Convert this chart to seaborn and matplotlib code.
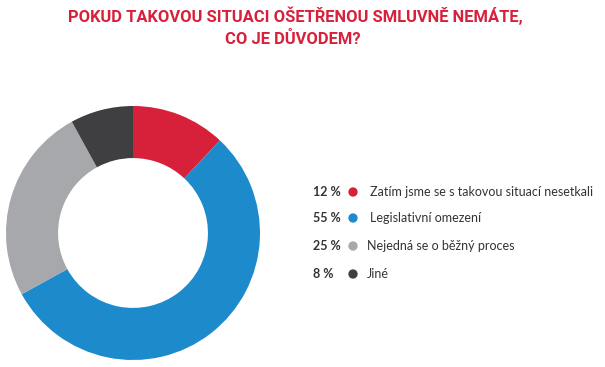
import matplotlib.pyplot as plt
import seaborn as sns

# data
labels = ['Zatím jsme se s takovou situací nesetkali', 'Legislativní omezení',
          'Nejedná se o běžný proces', 'Jiné']
values = [12, 55, 25, 8]
pct_text = ['12 %', '55 %', '25 %', '8 %']
colors = ['#D7213B', '#1D8BCB', '#A7A8AB', '#3F3F41']

sns.set_theme(style='white')
plt.rcParams['font.family'] = ['Lato', 'DejaVu Sans']

W, H = 605, 367
fig = plt.figure(figsize=(W / 100, H / 100), dpi=100)

# donut
ax = fig.add_axes([6 / W, 7 / H, 254 / W, 254 / H])
ax.pie(values, colors=colors, startangle=90, counterclock=False, radius=1,
       wedgeprops=dict(width=0.41, linewidth=0))
ax.set_xlim(-1, 1)
ax.set_ylim(-1, 1)
ax.set_aspect('equal')
ax.axis('off')

# title
title_font = dict(ha='center', va='center', color='#D7213B', fontsize=11.9,
                  fontweight='bold', family=['Roboto', 'DejaVu Sans'])
fig.text(295 / W, 1 - 16 / H, 'POKUD TAKOVOU SITUACI OŠETŘENOU SMLUVNĚ NEMÁTE,',
         **title_font)
fig.text(293 / W, 1 - 39 / H, 'CO JE DŮVODEM?', **title_font)

# legend
rows_y = [192, 218, 246, 274]
text_x = [370, 370, 367, 367]
for i in range(len(labels)):
    y = 1 - rows_y[i] / H
    fig.text(313 / W, y, pct_text[i], ha='left', va='center', fontsize=9,
             fontweight='bold', color='#333333')
    fig.text(text_x[i] / W, y, labels[i], ha='left', va='center', fontsize=9,
             color='#333333')

dot_ax = fig.add_axes([0, 0, 1, 1], facecolor='none')
dot_ax.set_xlim(0, W)
dot_ax.set_ylim(H, 0)
dot_ax.axis('off')
dot_ax.scatter([353] * 4, rows_y, s=45, c=colors, linewidths=0)

fig.savefig('out.png', dpi=100)
